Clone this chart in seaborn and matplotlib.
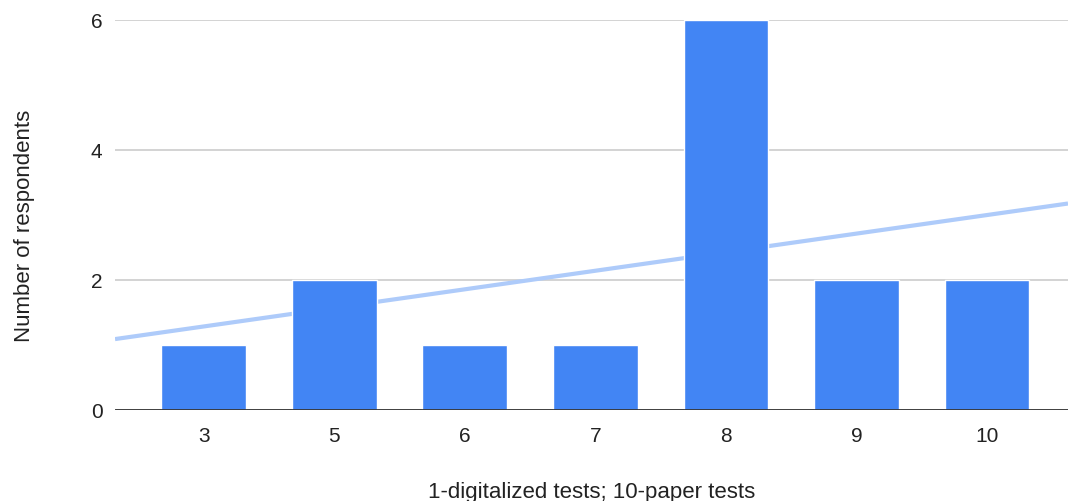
import numpy as np
import pandas as pd
import matplotlib.pyplot as plt
import seaborn as sns

# scores on the 1-10 scale and how many respondents gave each
SCORES = ["3", "5", "6", "7", "8", "9", "10"]
RESPONDENTS = [1, 2, 1, 1, 6, 2, 2]
Y_TICKS = [0, 2, 4, 6]

BAR_COLOR = "#4285F4"
TREND_COLOR = "#AECBFA"

df = pd.DataFrame({"score": SCORES, "n": RESPONDENTS})

sns.set_theme(style="white")
plt.rcParams["font.family"] = ["Liberation Sans", "DejaVu Sans"]

fig = plt.figure(figsize=(10.68, 5.01), dpi=100)
ax = fig.add_axes([0.1077, 0.1816, 0.8923, 0.7784])

sns.barplot(data=df, x="score", y="n", color=BAR_COLOR, width=0.65,
            saturation=1, ax=ax, zorder=3)

# linear trendline over category positions, spanning the whole axis
pos = np.arange(len(SCORES))
slope, icpt = np.polyfit(pos, df["n"].values, 1)
ax.set_xlim(-0.68, 6.62)
xs = np.array(ax.get_xlim())
ax.plot(xs, slope * xs + icpt, color=TREND_COLOR, linewidth=3, zorder=2,
        solid_capstyle="butt")

ax.set_ylim(0, 6)
ax.set_yticks(Y_TICKS)
ax.yaxis.grid(True, color="#CCCCCC", linewidth=1.2, zorder=0)
ax.axhline(0, color="#333333", linewidth=2, zorder=4)
for s in ax.spines.values():
    s.set_visible(False)
ax.tick_params(axis="both", length=0, labelsize=15, colors="#222222")
ax.tick_params(axis="x", pad=12)
ax.tick_params(axis="y", pad=9)
ax.set_ylabel("Number of respondents", fontsize=16, color="#222222", labelpad=40)
ax.yaxis.label.set_y(0.472)
ax.set_xlabel("1-digitalized tests; 10-paper tests", fontsize=16,
              color="#222222", labelpad=26)
ax.set_axisbelow(True)

fig.savefig("out.png", dpi=100)
